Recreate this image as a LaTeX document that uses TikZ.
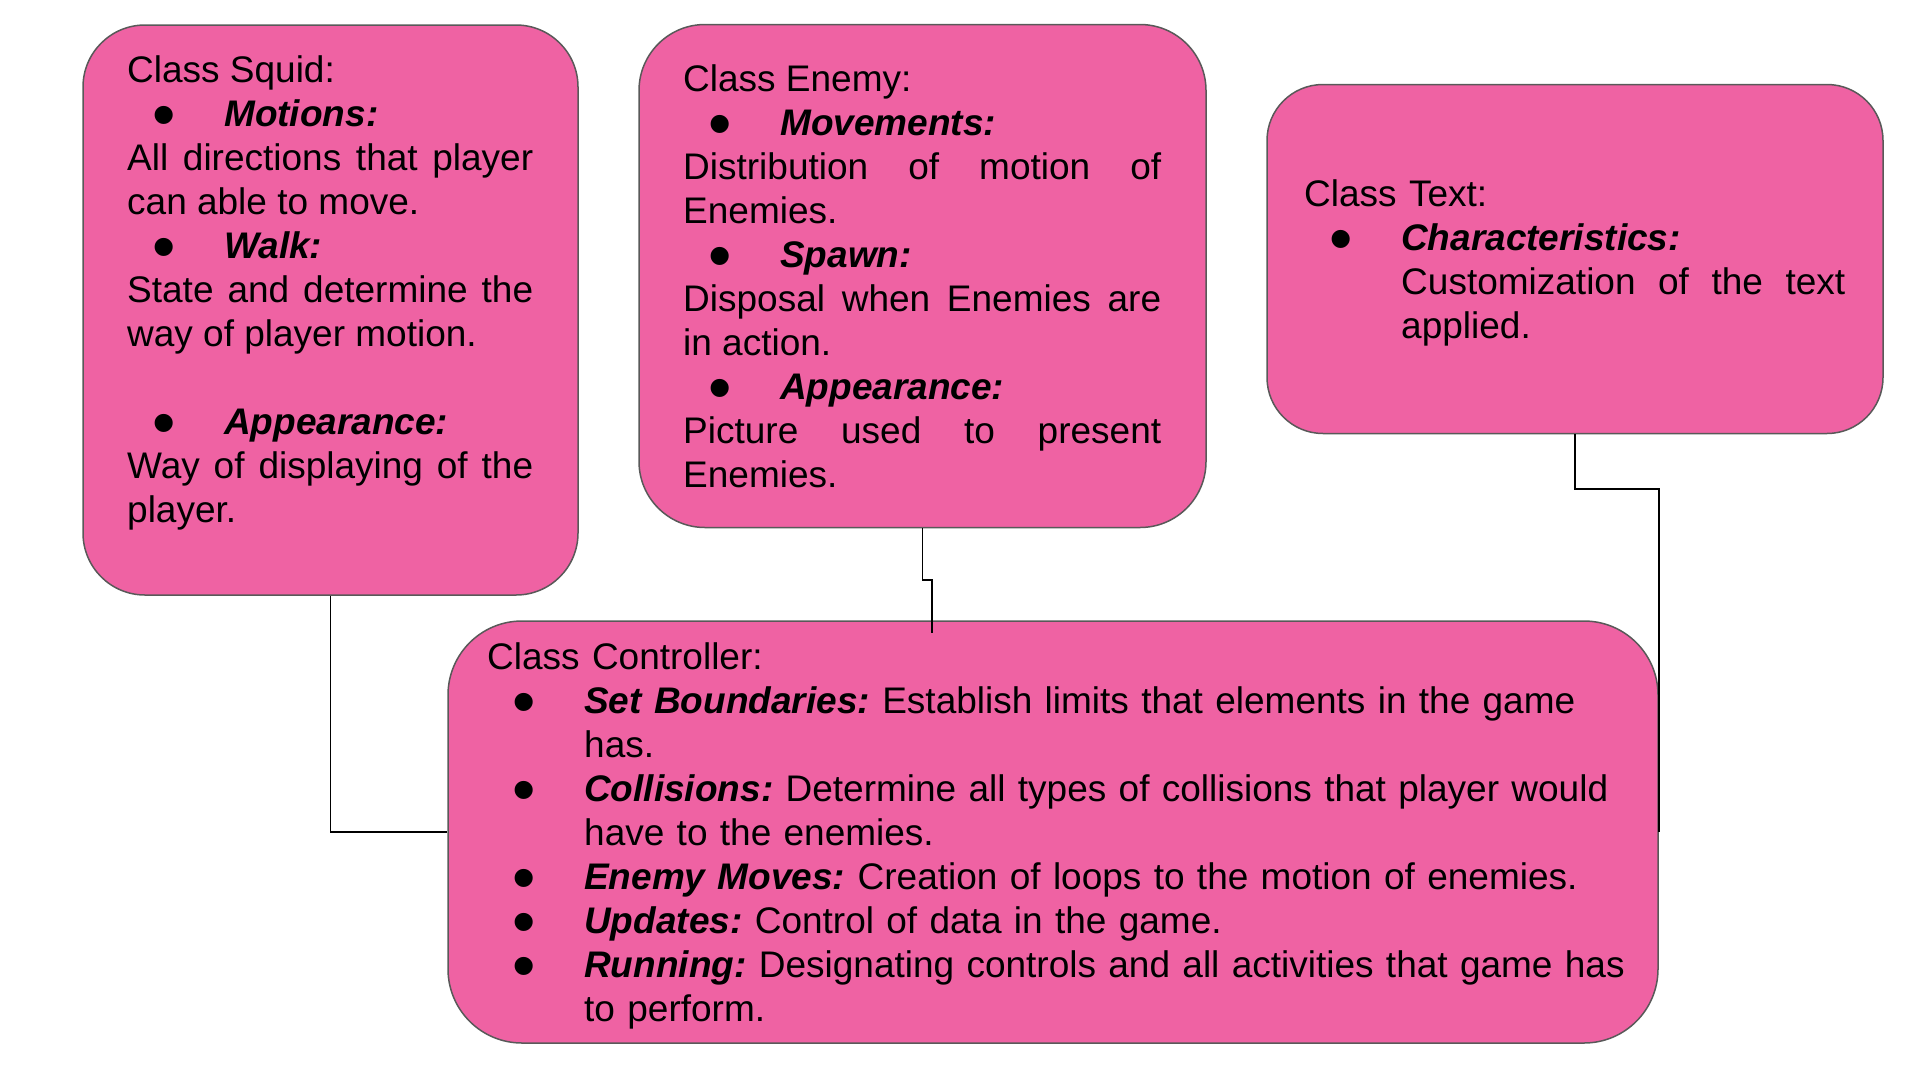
\documentclass[tikz,border=0pt]{standalone}
\usepackage{fontspec}
\setmainfont{Liberation Sans}
\usepackage{tikz}
\definecolor{boxpink}{RGB}{239,98,163}
\definecolor{boxedge}{RGB}{89,89,89}
\tikzset{
  classbox/.style={draw=boxedge,fill=boxpink,line width=1.5pt,inner sep=0pt},
  classtext/.style={anchor=base west,inner sep=0pt,align=justify,
    font=\fontsize{37}{44}\selectfont\frenchspacing},
  classlink/.style={line width=1.8pt,black}
}
\newcommand{\itembullet}{\hspace*{25pt}\makebox[72pt][l]{\smash{\raisebox{-11pt}{\scalebox{1.8}{\textbullet}}}}}
\newcommand{\itemhead}[1]{\itembullet{\bfseries\itshape #1}}
\newcommand{\itemrest}{\hspace*{97pt}}

\begin{document}
\begin{tikzpicture}[x=1pt,y=-1pt]
  \useasboundingbox (0,0) rectangle (1920,1080);
  % class boxes
  \node[classbox,rounded corners=62pt,minimum width=495pt,minimum height=570pt] (squid) at (330.5,310) {};
  \node[classbox,rounded corners=66pt,minimum width=567pt,minimum height=503pt] (enemy) at (922.5,276) {};
  \node[classbox,rounded corners=56pt,minimum width=616pt,minimum height=349pt] (textcls) at (1575,259) {};
  \node[classbox,rounded corners=74pt,minimum width=1210pt,minimum height=422pt] (ctrl) at (1053,832) {};
  % texts
  \node[classtext,text width=406pt] (squidtxt) at (127,82) {Class Squid:\\
    \itemhead{Motions:}\\
    All directions that player\linebreak can able to move.\\
    \itemhead{Walk:}\\
    State and determine the\linebreak way of player motion.\\
    \mbox{}\\
    \itemhead{Appearance:}\\
    Way of displaying of the\linebreak player.};
  \node[classtext,text width=478pt] (enemytxt) at (683,91) {Class Enemy:\\
    \itemhead{Movements:}\\
    Distribution of motion of\linebreak Enemies.\\
    \itemhead{Spawn:}\\
    Disposal when Enemies are\linebreak in action.\\
    \itemhead{Appearance:}\\
    Picture used to present\linebreak Enemies.};
  \node[classtext,align=left,text width=541pt] (texttxt) at (1304,206) {Class Text:\\
    \itemhead{Characteristics:}\\
    \itemrest\makebox[444pt][l]{Customization\hfill of\hfill the\hfill text}\\
    \itemrest applied.};
  \node[classtext,align=left,text width=1160pt] (ctrltxt) at (487,669) {Class Controller:\\
    \itemhead{Set Boundaries:} Establish limits that elements in the game\\
    \itemrest has.\\
    \itemhead{Collisions:} Determine all types of collisions that player would\\
    \itemrest have to the enemies.\\
    \itemhead{Enemy Moves:} Creation of loops to the motion of enemies.\\
    \itemhead{Updates:} Control of data in the game.\\
    \itemhead{Running:} Designating controls and all activities that game has\\
    \itemrest to perform.};
  % links
  \coordinate (enemyend) at (932,633);
  \draw[classlink] (squid.south) |- (ctrl.west);
  \draw[classlink] (enemy.south) -- ++(0,52) -| (enemyend);
  \draw[classlink] (textcls.south) -- ++(0,55) -| (ctrl.east);
\end{tikzpicture}
\end{document}
